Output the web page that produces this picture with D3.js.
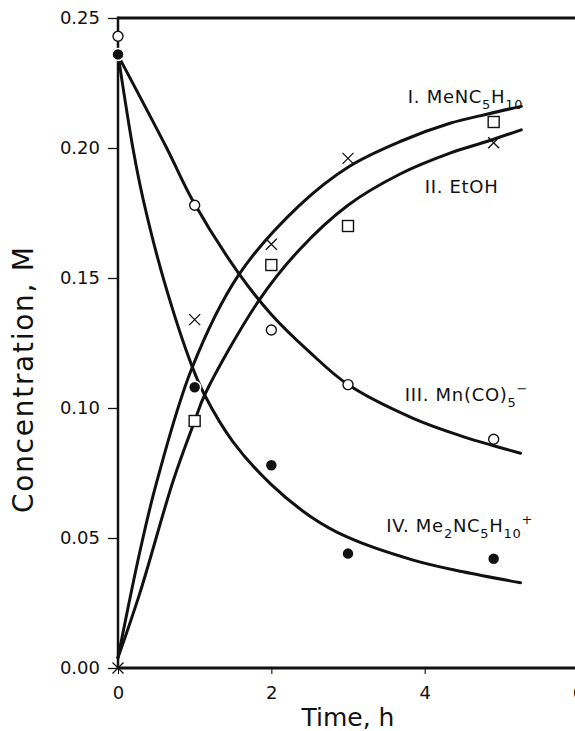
<!DOCTYPE html>
<html><head><meta charset="utf-8">
<script src="https://cdn.jsdelivr.net/npm/d3@7"></script>
<style>
body{margin:0;background:#fff}
svg{display:block}
text{font-family:"DejaVu Sans",sans-serif;fill:#111}
</style>
</head><body>
<svg id="c" width="575" height="731"></svg>
<script>
// ---- data ----
const xTickValues=[0,2,4,6];
const yTickValues=[0,0.05,0.10,0.15,0.20,0.25];
const sampleTimes=[0,1,2,3,4.9];
const circleValues=[0.243,0.178,0.130,0.109,0.088];   // III. Mn(CO)5-
const dotValues=[0.236,0.108,0.078,0.044,0.042];      // IV. Me2NC5H10+
const crossValues=[0.000,0.134,0.163,0.196,0.202];
const squareTimes=[1,2,3,4.9];
const squareValues=[0.095,0.155,0.170,0.210];

const curveI_t=[0,0.287,0.5,0.96,1.57,2.37,3.02,3.68,4.33,4.81,5.26];
const curveI_c=[0.004,0.045,0.071,0.115,0.151,0.178,0.193,0.2025,0.2095,0.213,0.216];
const curveII_t=[0,0.287,0.72,1.0,1.13,1.83,2.37,3.0,3.68,4.33,4.81,5.26];
const curveII_c=[0.004,0.029,0.072,0.095,0.105,0.141,0.161,0.178,0.190,0.198,0.2025,0.207];
const curveIII_t=[0.03,0.635,0.98,1.57,2.0,2.5,3.0,3.85,4.5,4.9,5.25];
const curveIII_c=[0.234,0.2,0.1795,0.152,0.136,0.1215,0.109,0.096,0.089,0.0855,0.0826];
const curveIV_t=[0,0.2,0.33,0.6,0.96,1.13,1.5,2.0,2.5,2.98,3.85,4.5,5.25];
const curveIV_c=[0.236,0.199,0.180,0.149,0.1165,0.105,0.087,0.0705,0.0585,0.0505,0.0415,0.037,0.0328];

const labelI=[["I. MeNC","n"],["5","sub"],["H","n"],["10","sub"]];
const labelII=[["II. EtOH","n"]];
const labelIII=[["III. Mn(CO)","n"],["5","sub"],["\u2212","sup"]];
const labelIV=[["IV. Me","n"],["2","sub"],["NC","n"],["5","sub"],["H","n"],["10","sub"],["+","sup"]];
const xTitle="Time, h";
const yTitle="Concentration, M";

// ---- layout ----
const svg=d3.select("#c");
const x=d3.scaleLinear().domain([0,6]).range([118,578]);
const y=d3.scaleLinear().domain([0,0.25]).range([668,18]);

// axes
const gy=svg.append("g").attr("transform","translate(118,0)")
  .call(d3.axisLeft(y).tickValues(yTickValues).tickFormat(d3.format(".2f")).tickSize(10).tickPadding(8));
gy.select(".domain").remove();
gy.selectAll(".tick line").attr("stroke","#111").attr("stroke-width",1.3);
gy.selectAll(".tick text").attr("font-size",18).attr("font-family","DejaVu Sans").attr("fill","#111");

const gx=svg.append("g").attr("transform","translate(0,668)")
  .call(d3.axisBottom(x).tickValues(xTickValues).tickFormat(d3.format("d")).tickSize(6).tickPadding(12));
gx.select(".domain").remove();
gx.selectAll(".tick line").attr("stroke","#111").attr("stroke-width",1.1);
gx.selectAll(".tick text").attr("font-size",18).attr("font-family","DejaVu Sans").attr("fill","#111");

// frame lines
svg.append("line").attr("x1",x(0)).attr("x2",575).attr("y1",y(0)).attr("y2",y(0)).attr("stroke","#111").attr("stroke-width",3);
svg.append("line").attr("x1",x(0)).attr("x2",575).attr("y1",y(0.25)).attr("y2",y(0.25)).attr("stroke","#111").attr("stroke-width",3);
svg.append("line").attr("x1",x(0)).attr("x2",x(0)).attr("y1",y(0.25)-1.5).attr("y2",y(0)).attr("stroke","#111").attr("stroke-width",2.5);

// curves
const line=d3.line().x(d=>x(d[0])).y(d=>y(d[1])).curve(d3.curveCatmullRom.alpha(0.5));
[[curveI_t,curveI_c],[curveII_t,curveII_c],[curveIII_t,curveIII_c],[curveIV_t,curveIV_c]].forEach(([t,c])=>{
  svg.append("path").attr("d",line(t.map((v,i)=>[v,c[i]])))
    .attr("fill","none").attr("stroke","#111").attr("stroke-width",3).attr("stroke-linecap","round");
});

// markers
const mk=svg.append("g");
sampleTimes.forEach((t,i)=>{
  mk.append("circle").attr("cx",x(t)).attr("cy",y(circleValues[i])).attr("r",5)
    .attr("fill","#fff").attr("stroke","#111").attr("stroke-width",1.4);
  mk.append("circle").attr("cx",x(t)).attr("cy",y(dotValues[i])).attr("r",6)
    .attr("fill","#111").attr("stroke","#fff").attr("stroke-width",1.5);
  const cx=x(t), cy=y(crossValues[i]), s=5.5;
  mk.append("path").attr("d",`M${cx-s},${cy-s}L${cx+s},${cy+s}M${cx-s},${cy+s}L${cx+s},${cy-s}`)
    .attr("stroke","#111").attr("stroke-width",1.3).attr("fill","none");
});
squareTimes.forEach((t,i)=>{
  mk.append("rect").attr("x",x(t)-5.5).attr("y",y(squareValues[i])-5.5).attr("width",11).attr("height",11)
    .attr("fill","#fff").attr("stroke","#111").attr("stroke-width",1.4);
});

// series labels
function label(parts,tx,ty){
  const t=svg.append("text").attr("x",x(tx)).attr("y",y(ty)).attr("font-size",18).attr("letter-spacing",0.7);
  let off=0;
  parts.forEach(([s,k])=>{
    const target=k==="sub"?6:(k==="sup"?-8:0);
    t.append("tspan").attr("dy",target-off).attr("font-size",k==="n"?18:13).text(s);
    off=target;
  });
}
label(labelI,3.78,0.2173);
label(labelII,4.0,0.1826);
label(labelIII,3.74,0.1028);
label(labelIV,3.50,0.0524);

// axis titles
svg.append("text").attr("x",x(3)).attr("y",726).attr("text-anchor","middle").attr("font-size",25).text(xTitle);
svg.append("text").attr("transform","translate(33,380) rotate(-90)").attr("text-anchor","middle")
  .attr("font-size",28).attr("textLength",266).attr("lengthAdjust","spacing").text(yTitle);
</script>
</body></html>
